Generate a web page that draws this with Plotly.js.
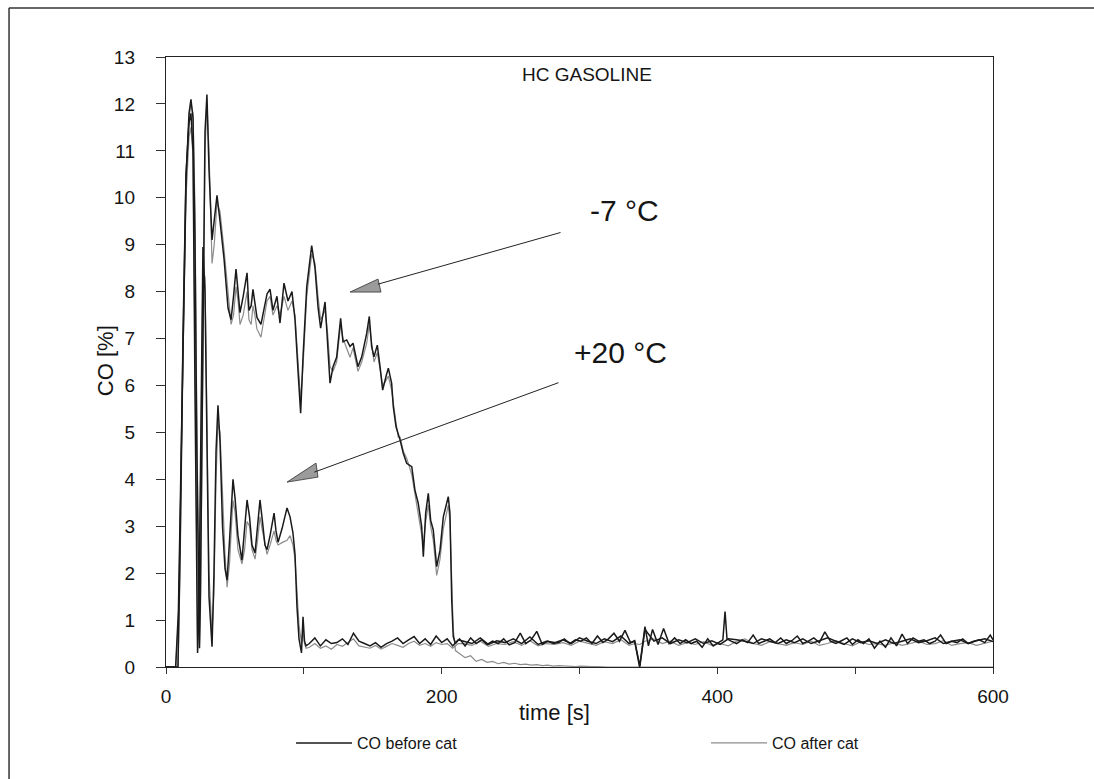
<!DOCTYPE html>
<html>
<head>
<meta charset="utf-8">
<script src="https://cdn.plot.ly/plotly-3.0.1.min.js"></script>
<style>
  html, body { margin: 0; padding: 0; background: #fff; }
  #chart { width: 1094px; height: 779px; }
</style>
</head>
<body>
<div id="chart"></div>
<script>
// Time base [s] for the -7 °C cold start
const timeMinus7 = [
  0, 7, 9, 10.5, 12.3, 14.5, 16.7, 18.1, 19.6, 21,
  22.3, 23.5, 24.3, 25, 26.8, 28.3, 29.7, 31.2, 33.4, 35,
  37, 39.2, 42.1, 45, 47.2, 49, 50.8, 52.3, 53.7, 56,
  58.8, 60.2, 61.8, 63.1, 64.5, 66, 68.9, 71, 73.3, 75.5,
  77.6, 80.5, 82.7, 85.6, 88.5, 91.4, 93.6, 95.8, 97.7, 99.4,
  102.1, 105.7, 108.1, 110.3, 112.2, 115.4, 117.3, 119, 121.2, 123.8,
  126.7, 128.4, 131.1, 133.5, 135.7, 139.3, 142, 145.6, 147.5, 149.2,
  150.9, 153.3, 155.3, 157.2, 159.6, 161.3, 163.7, 164.9, 166.9, 168.5,
  169.8, 172.2, 174.6, 178.3, 180.6, 183, 185.5, 186.7, 188.4, 190.3,
  192, 193.9, 196.4, 198.8, 201.2, 204.8, 206, 207.3, 208.4, 210,
  213, 217, 221, 225, 229, 233, 237, 241, 245, 249,
  253, 257, 261, 265, 269, 273, 277, 281, 285, 289,
  293, 297, 301, 305, 309, 313, 317, 321, 325, 329,
  333, 337, 340, 343.6, 346, 347.5, 350, 353, 357, 361,
  365, 369, 373, 377, 381, 385, 389, 393, 397, 401,
  404, 405.6, 407, 410, 414, 418, 422, 426, 430, 434,
  438, 442, 446, 450, 454, 458, 462, 466, 470, 474,
  478, 482, 486, 490, 494, 498, 502, 506, 510, 514,
  518, 522, 526, 530, 534, 538, 542, 546, 550, 554,
  558, 562, 566, 570, 574, 578, 582, 586, 590, 594,
  598, 600
];

// CO [%] before the catalyst, -7 °C
const coBeforeMinus7 = [
  0, 0, 1.2, 3.8, 7.2, 10.4, 11.8, 12.1, 11.7, 9.2,
  4.8, 1.2, 0.4, 1.6, 7.5, 11.4, 12.2, 10.6, 9.1, 9.5,
  10.05, 9.5, 8.7, 7.65, 7.4, 7.9, 8.48, 8.0, 7.55, 7.9,
  8.4, 7.6, 7.7, 8.05, 7.7, 7.45, 7.3, 7.6, 7.95, 8.05,
  7.6, 7.9, 7.33, 8.18, 7.8, 8.0, 7.4, 6.3, 5.41, 6.6,
  8.1, 8.98, 8.5, 7.67, 7.22, 7.78, 6.9, 6.05, 6.4, 6.6,
  7.43, 6.93, 6.97, 6.83, 6.9, 6.4, 6.61, 7.11, 7.47, 6.83,
  6.61, 6.86, 6.4, 5.9, 6.19, 6.37, 6.05, 5.55, 5.12, 4.98,
  4.84, 4.55, 4.34, 4.27, 3.77, 3.49, 2.99, 2.35, 3.28, 3.7,
  3.13, 2.92, 2.14, 2.49, 3.2, 3.63, 3.28, 1.43, 0.65, 0.5,
  0.6, 0.45, 0.62, 0.5, 0.58, 0.48, 0.55, 0.5, 0.6, 0.47,
  0.52, 0.72, 0.5, 0.58, 0.76, 0.48, 0.55, 0.5, 0.52, 0.6,
  0.5, 0.58, 0.55, 0.62, 0.5, 0.66, 0.52, 0.6, 0.72, 0.55,
  0.78, 0.52, 0.55, 0.0, 0.5, 0.86, 0.45, 0.8, 0.48, 0.82,
  0.5, 0.62, 0.5, 0.58, 0.5, 0.55, 0.42, 0.6, 0.45, 0.52,
  0.58, 1.18, 0.6, 0.55, 0.5, 0.58, 0.52, 0.68, 0.5, 0.55,
  0.6, 0.52, 0.62, 0.5, 0.56, 0.66, 0.5, 0.55, 0.62, 0.52,
  0.75, 0.55, 0.5, 0.56, 0.62, 0.48, 0.58, 0.5, 0.6, 0.4,
  0.55, 0.42, 0.62, 0.45, 0.7, 0.5, 0.62, 0.55, 0.58, 0.5,
  0.55, 0.68, 0.5, 0.55, 0.52, 0.6, 0.5, 0.55, 0.58, 0.52,
  0.68, 0.58
];

// CO [%] after the catalyst, -7 °C
const coAfterMinus7 = [
  0, 0, 1.0, 3.4, 6.8, 10.1, 11.7, 12.0, 11.8, 9.8,
  5.5, 1.6, 0.5, 1.2, 6.8, 11.0, 12.0, 11.0, 8.6, 9.0,
  9.9, 9.7, 8.9, 7.9, 7.3, 7.5, 8.1, 7.8, 7.3, 7.5,
  8.0, 7.4, 7.3, 7.7, 7.5, 7.2, 7.03, 7.4, 7.8, 7.9,
  7.5, 7.7, 7.5, 7.9, 7.6, 7.8, 7.5, 6.5, 5.7, 6.4,
  7.9, 8.8, 8.6, 7.9, 7.4, 7.6, 7.1, 6.4, 6.3, 6.5,
  7.3, 7.0, 6.8, 6.6, 6.8, 6.3, 6.5, 6.9, 7.3, 6.9,
  6.5, 6.7, 6.3, 6.0, 6.1, 6.2, 5.9, 5.6, 5.2, 4.9,
  4.9, 4.6, 4.45, 4.1, 3.7, 3.3, 2.8, 2.6, 3.1, 3.45,
  3.0, 2.7, 1.95, 2.3, 2.95, 3.45, 3.1, 1.7, 0.8, 0.35,
  0.28, 0.2, 0.24, 0.12, 0.16, 0.1, 0.12, 0.07, 0.1, 0.06,
  0.08, 0.05, 0.06, 0.04, 0.05, 0.03, 0.04, 0.02, 0.03, 0.02,
  0.02, 0.01, 0.02, 0.01, 0.01, 0.01, 0, 0, 0, 0,
  0, 0, 0, 0, 0, 0, 0, 0, 0, 0,
  0, 0, 0, 0, 0, 0, 0, 0, 0, 0,
  0, 0, 0, 0, 0, 0, 0, 0, 0, 0,
  0, 0, 0, 0, 0, 0, 0, 0, 0, 0,
  0, 0, 0, 0, 0, 0, 0, 0, 0, 0,
  0, 0, 0, 0, 0, 0, 0, 0, 0, 0,
  0, 0, 0, 0, 0, 0, 0, 0, 0, 0,
  0, 0
];

// Time base [s] for the +20 °C start
const timePlus20 = [
  0, 8.7, 10.2, 12.3, 14.5, 16.7, 18.1, 19.6, 21.0, 22.1,
  22.9, 23.9, 25.4, 26.8, 28.3, 29.7, 31.2, 33.4, 34.8, 36.3,
  37.7, 39.2, 41.0, 42.8, 44.3, 46.1, 47.5, 48.6, 50.1, 52.2,
  55.1, 57.0, 58.8, 60.6, 62.4, 64.6, 66.4, 68.2, 70.0, 71.8,
  73.3, 75.5, 78.4, 79.8, 81.3, 84.2, 87.8, 90.0, 92.1, 93.6,
  95.0, 96.5, 98.3, 99.4, 100.5, 101.6,
  104, 108, 112, 116, 120, 124, 128, 132, 136, 140,
  144, 148, 152, 156, 160, 164, 168, 172, 176, 180,
  184, 188, 192, 196, 200, 204, 208, 212,
  216, 222, 228, 234, 240, 246, 252, 258, 264, 270,
  276, 282, 288, 294, 300, 306, 312, 318, 324, 330,
  336, 340, 343.8, 347.5, 354, 360, 366, 372, 378, 384, 390,
  396, 402, 408, 414, 420, 426, 432, 438, 444, 450,
  456, 462, 468, 474, 480, 486, 492, 498, 504, 510,
  516, 522, 528, 534, 540, 546, 552, 558, 564, 570,
  576, 582, 588, 594, 600
];

// CO [%] before the catalyst, +20 °C
const coBeforePlus20 = [
  0, 0, 2.5, 7.0, 10.5, 11.6, 11.8, 11.0, 6.0, 1.5,
  0.3, 1.2, 5.5, 8.95, 8.0, 4.5, 1.5, 0.43, 2.0, 4.6,
  5.58, 4.8, 3.0, 2.1, 1.85, 2.7, 3.5, 4.0, 3.6, 2.8,
  2.28, 2.9, 3.56, 3.2, 2.6, 2.43, 3.0, 3.56, 3.1, 2.6,
  2.5, 2.8, 3.28, 2.9, 2.66, 2.95, 3.39, 3.2, 2.86, 2.4,
  1.3, 0.6, 0.3, 1.07, 0.55, 0.45,
  0.5, 0.62, 0.45, 0.58, 0.5, 0.52, 0.6, 0.48, 0.72, 0.55,
  0.5, 0.45, 0.52, 0.42, 0.5, 0.55, 0.62, 0.5, 0.58, 0.65,
  0.5, 0.6, 0.48, 0.66, 0.52, 0.6, 0.45, 0.58,
  0.55, 0.5, 0.62, 0.48, 0.56, 0.52, 0.6, 0.5, 0.64, 0.48,
  0.55, 0.52, 0.58, 0.5, 0.62, 0.55, 0.5, 0.6, 0.54, 0.66,
  0.5, 0.56, 0.02, 0.8, 0.55, 0.62, 0.5, 0.58, 0.52, 0.6, 0.5,
  0.56, 0.48, 0.6, 0.58, 0.55, 0.5, 0.6, 0.55, 0.5, 0.58,
  0.52, 0.6, 0.5, 0.56, 0.62, 0.55, 0.48, 0.6, 0.52, 0.56,
  0.5, 0.58, 0.5, 0.55, 0.6, 0.52, 0.56, 0.62, 0.5, 0.55,
  0.58, 0.5, 0.56, 0.6, 0.54
];

// CO [%] after the catalyst, +20 °C
const coAfterPlus20 = [
  0, 0, 2.0, 6.5, 10.0, 11.3, 11.5, 10.9, 6.8, 2.2,
  0.6, 0.9, 4.8, 8.5, 8.3, 5.2, 2.0, 0.7, 1.6, 4.0,
  5.2, 5.0, 3.5, 2.4, 1.7, 2.2, 3.0, 3.55, 3.3, 2.5,
  2.2, 2.5, 3.1, 3.0, 2.5, 2.3, 2.7, 3.2, 2.9, 2.6,
  2.4, 2.6, 2.9, 2.7, 2.6, 2.65, 2.7, 2.8, 2.6, 2.3,
  1.6, 0.9, 0.5, 0.8, 0.5, 0.4,
  0.42, 0.5, 0.4, 0.45, 0.38, 0.48, 0.44, 0.52, 0.6, 0.45,
  0.42, 0.4, 0.46, 0.38, 0.44, 0.5, 0.46, 0.42, 0.5, 0.55,
  0.46, 0.5, 0.44, 0.52, 0.48, 0.5, 0.4, 0.5,
  0.5, 0.46, 0.55, 0.44, 0.5, 0.48, 0.54, 0.46, 0.56, 0.45,
  0.5, 0.48, 0.52, 0.46, 0.55, 0.5, 0.46, 0.54, 0.5, 0.58,
  0.46, 0.5, 0.48, 0.55, 0.6, 0.5, 0.55, 0.46, 0.52, 0.48, 0.54,
  0.46, 0.5, 0.45, 0.55, 0.6, 0.5, 0.46, 0.54, 0.5, 0.46,
  0.52, 0.48, 0.55, 0.46, 0.5, 0.56, 0.5, 0.45, 0.54, 0.48,
  0.5, 0.46, 0.52, 0.46, 0.5, 0.55, 0.48, 0.5, 0.56, 0.46,
  0.5, 0.52, 0.46, 0.5, 0.55
];

// Axis ticks
const xTickValues = [0, 100, 200, 300, 400, 500, 600];
const xTickLabels = ['0', '', '200', '', '400', '', '600'];
const yTickValues = [0, 1, 2, 3, 4, 5, 6, 7, 8, 9, 10, 11, 12, 13];

// Arrow tips (time [s], CO [%]) for the temperature labels
const arrowMinus7 = { t: 133.5, co: 7.99 };
const arrowPlus20 = { t: 87.8, co: 3.94 };

const FONT = 'Liberation Sans, Arial, Helvetica, sans-serif';
const beforeLine = { color: '#1a1a1a', width: 1.5 };
const afterLine = { color: '#8c8c8c', width: 1.2 };

const traces = [
  { x: timeMinus7, y: coAfterMinus7, type: 'scatter', mode: 'lines', line: afterLine,
    name: 'CO after cat', legend: 'legend2', showlegend: true },
  { x: timePlus20, y: coAfterPlus20, type: 'scatter', mode: 'lines', line: afterLine,
    name: 'CO after cat', legend: 'legend2', showlegend: false },
  { x: timeMinus7, y: coBeforeMinus7, type: 'scatter', mode: 'lines', line: beforeLine,
    name: 'CO before cat', legend: 'legend', showlegend: true },
  { x: timePlus20, y: coBeforePlus20, type: 'scatter', mode: 'lines', line: beforeLine,
    name: 'CO before cat', legend: 'legend', showlegend: false }
];

// filled arrowhead drawn in pixel units around a tip given in data units
function arrowHead(tip, path) {
  return {
    type: 'path', xref: 'x', yref: 'y',
    xsizemode: 'pixel', ysizemode: 'pixel',
    xanchor: tip.t, yanchor: tip.co,
    path: path,
    fillcolor: '#9b9b9b',
    line: { color: '#333', width: 0.8 },
    layer: 'above'
  };
}

const legendStyle = {
  orientation: 'h', xanchor: 'left', yanchor: 'middle', y: -0.1246,
  font: { family: FONT, size: 16, color: '#151515' },
  itemwidth: 56, bgcolor: 'rgba(0,0,0,0)', borderwidth: 0
};

const layout = {
  width: 1094, height: 779,
  margin: { l: 166, r: 101, t: 57, b: 112 },
  paper_bgcolor: '#fff', plot_bgcolor: '#fff',
  font: { family: FONT, color: '#151515', size: 16 },
  showlegend: true,
  legend: Object.assign({ x: 0.1512 }, legendStyle),
  legend2: Object.assign({ x: 0.653 }, legendStyle),
  xaxis: {
    range: [0, 600], tickmode: 'array', tickvals: xTickValues, ticktext: xTickLabels,
    ticks: 'outside', ticklen: 6, tickwidth: 1, tickcolor: '#333',
    showline: true, linecolor: '#222', linewidth: 1.2, mirror: true,
    showgrid: false, zeroline: false, ticklabelstandoff: 6,
    tickfont: { family: FONT, size: 19, color: '#151515' }
  },
  yaxis: {
    range: [0, 13], tickmode: 'array', tickvals: yTickValues,
    ticks: 'outside', ticklen: 9, tickwidth: 1, tickcolor: '#333',
    showline: true, linecolor: '#222', linewidth: 1.2, mirror: true,
    showgrid: false, zeroline: false, ticklabelstandoff: 17,
    tickfont: { family: FONT, size: 19, color: '#151515' }
  },
  annotations: [
    { text: 'HC GASOLINE', xref: 'paper', yref: 'paper', x: 0.509, y: 0.9705,
      xanchor: 'center', yanchor: 'middle', showarrow: false, font: { size: 19 } },
    { text: '-7 °C', xref: 'paper', yref: 'paper', x: 0.554, y: 0.749,
      xanchor: 'center', yanchor: 'middle', showarrow: false, font: { size: 30 } },
    { text: '+20 °C', xref: 'paper', yref: 'paper', x: 0.550, y: 0.516,
      xanchor: 'center', yanchor: 'middle', showarrow: false, font: { size: 30 } },
    { text: 'time [s]', xref: 'paper', yref: 'paper', x: 0.470, y: -0.0754,
      xanchor: 'center', yanchor: 'middle', showarrow: false, font: { size: 22 } },
    { text: 'CO [%]', xref: 'paper', yref: 'paper', x: -0.0738, y: 0.503,
      xanchor: 'center', yanchor: 'middle', showarrow: false, textangle: -90,
      font: { size: 22 } },
    { text: '', x: arrowMinus7.t, y: arrowMinus7.co, xref: 'x', yref: 'y',
      showarrow: true, arrowhead: 0, arrowwidth: 1, arrowcolor: '#222',
      ax: 212, ay: -60, standoff: 29 },
    { text: '', x: arrowPlus20.t, y: arrowPlus20.co, xref: 'x', yref: 'y',
      showarrow: true, arrowhead: 0, arrowwidth: 1, arrowcolor: '#222',
      ax: 273, ay: -100, standoff: 29 }
  ],
  shapes: [
    // page frame (top and left edges)
    { type: 'line', xref: 'paper', yref: 'paper', x0: -0.19, x1: 1.13, y0: 1.0803, y1: 1.0803,
      line: { color: '#333', width: 1.5 } },
    { type: 'line', xref: 'paper', yref: 'paper', x0: -0.1898, x1: -0.1898, y0: -0.19, y1: 1.0803,
      line: { color: '#333', width: 1.5 } },
    arrowHead(arrowMinus7, 'M0,0 L28,13 L31,0 Z'),
    arrowHead(arrowPlus20, 'M0,0 L29,19 L31,5 Z')
  ]
};

Plotly.newPlot('chart', traces, layout, { staticPlot: true, displayModeBar: false });
</script>
</body>
</html>
